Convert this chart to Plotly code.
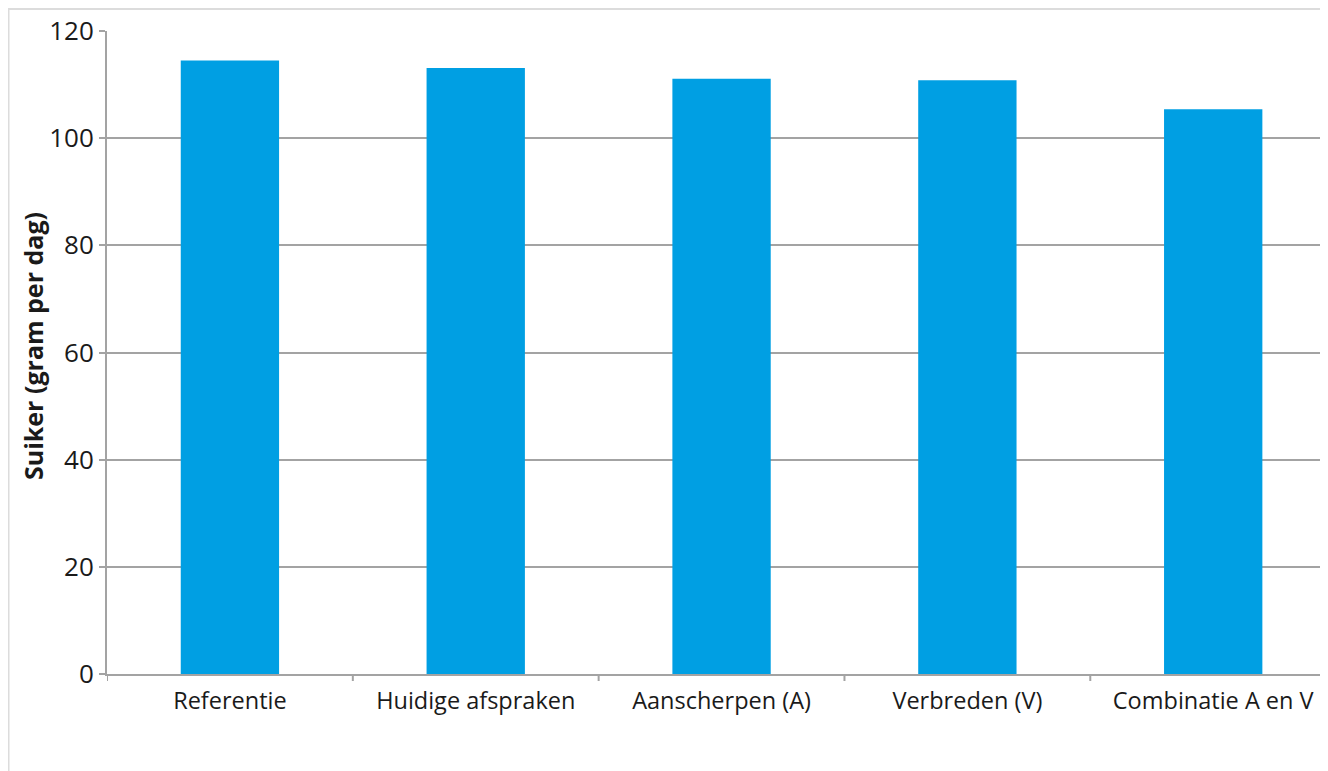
import plotly.graph_objects as go

categories = ["Referentie", "Huidige afspraken", "Aanscherpen (A)", "Verbreden (V)", "Combinatie A en V"]
values = [114.5, 113.1, 111.1, 110.8, 105.4]
y_ticks = [0, 20, 40, 60, 80, 100, 120]
y_title = "Suiker (gram per dag)"

# page has an 8px body margin; figure sized to fill the remaining viewport
W, H = 1320, 763
L, R, T, B = 99, 0, 23, 97
pw, ph = W - L - R, H - T - B

def px_x(px):
    return (px - L) / pw

def px_y(py):
    return (H - B - py) / ph

FONT = "Open Sans"
GRID = "#a3a3a3"
TXT = "#1a1a1a"

fig = go.Figure()
fig.add_trace(go.Bar(
    x=list(range(len(categories))),
    y=values,
    width=0.4,
    marker=dict(color="#009fe3", line=dict(width=0)),
    hoverinfo="skip",
))

fig.update_layout(
    width=W, height=H,
    margin=dict(l=L, r=R, t=T, b=B, pad=0),
    paper_bgcolor="white",
    plot_bgcolor="white",
    showlegend=False,
    font=dict(family=FONT, size=23, color=TXT),
    xaxis=dict(
        range=[-0.5, 4.467],
        tickmode="array",
        tickvals=list(range(len(categories))),
        ticktext=categories,
        showgrid=False,
        showline=True, linecolor=GRID, linewidth=2,
        ticks="",
        ticklabelstandoff=5,
        tickfont=dict(family=FONT, size=23.5, color=TXT),
        fixedrange=True,
    ),
    yaxis=dict(
        range=[0, 120],
        tickmode="array",
        tickvals=y_ticks,
        showgrid=True, gridcolor=GRID, gridwidth=2,
        zeroline=False,
        showline=True, linecolor=GRID, linewidth=2,
        ticks="outside", ticklen=6, tickcolor=GRID, tickwidth=2,
        tickfont=dict(family=FONT, size=26, color=TXT),
        fixedrange=True,
    ),
)

# y-axis title placed precisely
fig.add_annotation(
    text="<b>" + y_title + "</b>", textangle=-90,
    xref="paper", yref="paper", x=px_x(25), y=px_y(338),
    xanchor="center", yanchor="middle", showarrow=False,
    font=dict(family=FONT, size=25, color=TXT),
)

# category boundary tick marks on x axis
for b in [-0.5, 0.5, 1.5, 2.5, 3.5]:
    fig.add_shape(type="line", xref="x", yref="paper",
                  x0=b, x1=b, y0=0, y1=px_y(673),
                  line=dict(color=GRID, width=2))

# outer chart border
fig.add_shape(type="rect", xref="paper", yref="paper",
              x0=px_x(0.5), x1=px_x(W + 20), y0=px_y(H + 20), y1=px_y(1),
              line=dict(color="#dcdcdc", width=2), fillcolor="rgba(0,0,0,0)", layer="below")

fig.write_html("out.html")
